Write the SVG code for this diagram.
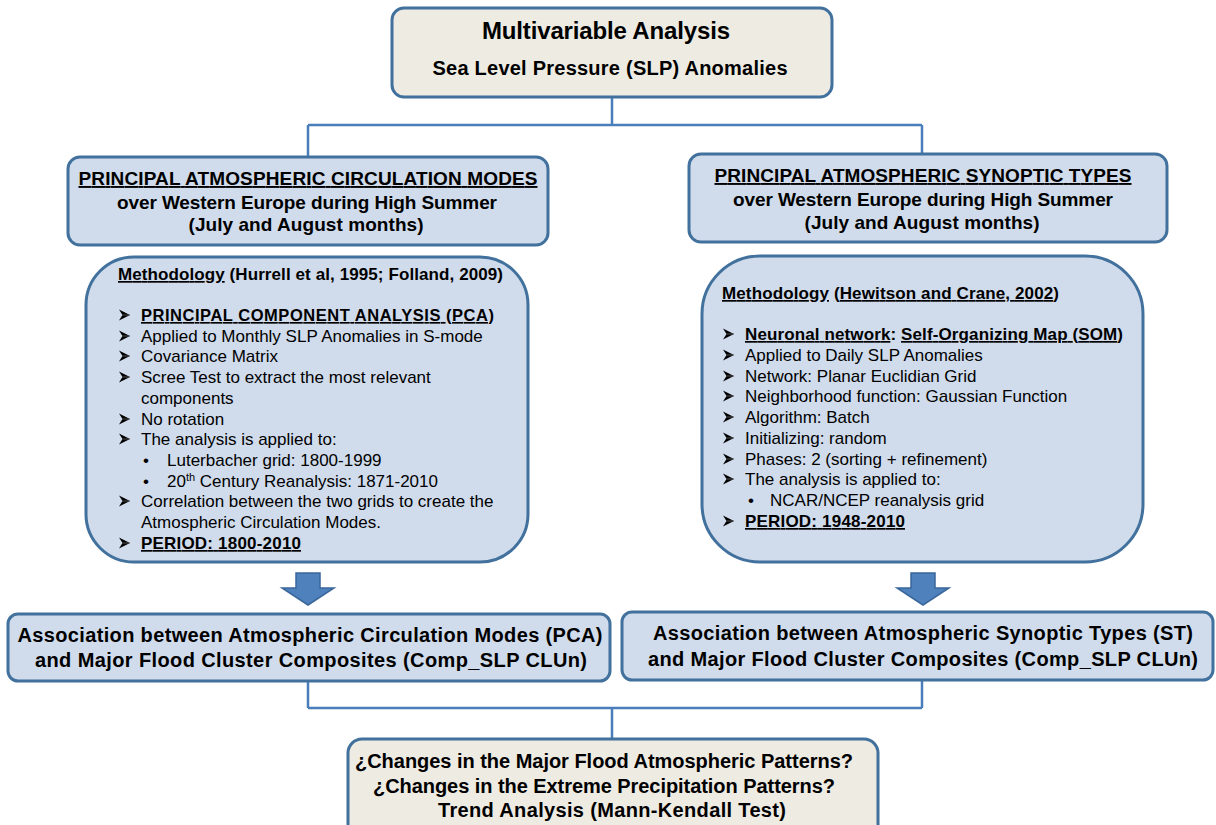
<svg xmlns="http://www.w3.org/2000/svg" width="1216" height="825" viewBox="0 0 1216 825">
<style>
text{font-family:"Liberation Sans",Arial,sans-serif;fill:#000}
.b{font-weight:bold}
.c{text-anchor:middle}
.u{text-decoration:underline}
.beige{fill:#EEEBE3;stroke:#41719C;stroke-width:3}
.blue{fill:#D0DCEC;stroke:#41719C;stroke-width:3}
.ln{fill:none;stroke:#4A7EBB;stroke-width:2.5}
.barr{fill:#4F81BD;stroke:#3A679A;stroke-width:1.5}
.it{font-size:17px}
.h{font-size:19px;font-weight:bold;text-anchor:middle}
.a{font-size:20px;font-weight:bold;text-anchor:middle}
</style>
<defs>
<g id="dart"><path d="M0 -5.5L11 0L0 5.5L3.5 0Z" fill="#000"/><path d="M3.5 0H11" stroke="#666" stroke-width="0.8"/></g>
</defs>
<rect width="1216" height="825" fill="#fff"/>
<g id="connectors">
<path class="ln" d="M612 97V125M308 125H922M308 125V157M922 125V155"/>
<path class="ln" d="M308 681V708M922 680V708M308 708H922M612 708V739"/>
<path class="barr" d="M296 573H320V588H334L308 605L282 588H296Z"/>
<path class="barr" d="M911 573H935V588H949L923 605L897 588H911Z"/>
</g>
<g id="top">
<rect class="beige" x="392" y="8" width="440" height="89" rx="12"/>
<text class="b c" x="606" y="39" font-size="24" textLength="248">Multivariable Analysis</text>
<text class="b c" x="610" y="75" font-size="20" textLength="355">Sea Level Pressure (SLP) Anomalies</text>
</g>
<g id="modes">
<rect class="blue" x="68" y="157" width="480" height="88" rx="12"/>
<text class="h u" x="308" y="185" textLength="459">PRINCIPAL ATMOSPHERIC CIRCULATION MODES</text>
<text class="h" x="307" y="209" textLength="380">over Western Europe during High Summer</text>
<text class="h" x="306" y="231" textLength="235">(July and August months)</text>
</g>
<g id="types">
<rect class="blue" x="689" y="154" width="478" height="88" rx="12"/>
<text class="h u" x="923" y="182" textLength="417">PRINCIPAL ATMOSPHERIC SYNOPTIC TYPES</text>
<text class="h" x="923" y="206" textLength="380">over Western Europe during High Summer</text>
<text class="h" x="922" y="229" textLength="235">(July and August months)</text>
</g>
<g id="method-pca">
<rect class="blue" x="86" y="257" width="442" height="305" rx="48"/>
<text class="b" x="118" y="280" font-size="17" textLength="385"><tspan class="u">Methodology</tspan> (Hurrell et al, 1995; Folland, 2009)</text>
<use href="#dart" x="119" y="315"/><use href="#dart" x="119" y="336"/><use href="#dart" x="119" y="356"/><use href="#dart" x="119" y="377"/><use href="#dart" x="119" y="419"/><use href="#dart" x="119" y="439"/><use href="#dart" x="119" y="501"/><use href="#dart" x="119" y="543"/>
<text class="b u" x="141" y="321" font-size="16.5" textLength="353">PRINCIPAL COMPONENT ANALYSIS (PCA)</text>
<text class="it" x="141" y="342">Applied to Monthly SLP Anomalies in S-mode</text>
<text class="it" x="141" y="362">Covariance Matrix</text>
<text class="it" x="141" y="383">Scree Test to extract the most relevant</text>
<text class="it" x="141" y="404">components</text>
<text class="it" x="141" y="425">No rotation</text>
<text class="it" x="141" y="445">The analysis is applied to:</text>
<text class="it" x="143" y="466">•</text>
<text class="it" x="167" y="466">Luterbacher grid: 1800-1999</text>
<text class="it" x="143" y="487">•</text>
<text class="it" x="167" y="487">20<tspan font-size="11" dy="-6">th</tspan><tspan dy="6"> Century Reanalysis: 1871-2010</tspan></text>
<text class="it" x="141" y="507">Correlation between the two grids to create the</text>
<text class="it" x="141" y="528">Atmospheric Circulation Modes.</text>
<text class="b u" x="141" y="549" font-size="17" textLength="160">PERIOD: 1800-2010</text>
</g>
<g id="method-som">
<rect class="blue" x="702" y="256" width="441" height="306" rx="58"/>
<text class="b" x="722" y="299" font-size="17" textLength="337"><tspan class="u">Methodology</tspan> <tspan class="u">(Hewitson and Crane, 2002)</tspan></text>
<use href="#dart" x="723" y="334"/><use href="#dart" x="723" y="355"/><use href="#dart" x="723" y="376"/><use href="#dart" x="723" y="396"/><use href="#dart" x="723" y="417"/><use href="#dart" x="723" y="438"/><use href="#dart" x="723" y="459"/><use href="#dart" x="723" y="479"/><use href="#dart" x="723" y="521"/>
<text class="b" x="745" y="340" font-size="17" textLength="378"><tspan class="u">Neuronal network</tspan>: <tspan class="u">Self-Organizing Map (SOM)</tspan></text>
<text class="it" x="745" y="361">Applied to Daily SLP Anomalies</text>
<text class="it" x="745" y="382">Network: Planar Euclidian Grid</text>
<text class="it" x="745" y="402">Neighborhood function: Gaussian Function</text>
<text class="it" x="745" y="423">Algorithm: Batch</text>
<text class="it" x="745" y="444">Initializing: random</text>
<text class="it" x="745" y="465">Phases: 2 (sorting + refinement)</text>
<text class="it" x="745" y="485">The analysis is applied to:</text>
<text class="it" x="748" y="506">•</text>
<text class="it" x="770" y="506">NCAR/NCEP reanalysis grid</text>
<text class="b u" x="745" y="527" font-size="17" textLength="160">PERIOD: 1948-2010</text>
</g>
<g id="assoc-pca">
<rect class="blue" x="8" y="614" width="602" height="67" rx="10"/>
<text class="a" x="310" y="642" textLength="585">Association between Atmospheric Circulation Modes (PCA)</text>
<text class="a" x="311" y="667" textLength="552">and Major Flood Cluster Composites (Comp_SLP CLUn)</text>
</g>
<g id="assoc-st">
<rect class="blue" x="622" y="612" width="591" height="68" rx="10"/>
<text class="a" x="923" y="640" textLength="540">Association between Atmospheric Synoptic Types (ST)</text>
<text class="a" x="923" y="666" textLength="550">and Major Flood Cluster Composites (Comp_SLP CLUn)</text>
</g>
<g id="changes">
<rect class="beige" x="348" y="739" width="530" height="100" rx="14"/>
<text class="a" x="604" y="768" textLength="498">¿Changes in the Major Flood Atmospheric Patterns?</text>
<text class="a" x="604" y="793" textLength="462">¿Changes in the Extreme Precipitation Patterns?</text>
<text class="a" x="612" y="817" textLength="348">Trend Analysis (Mann-Kendall Test)</text>
</g>
</svg>
